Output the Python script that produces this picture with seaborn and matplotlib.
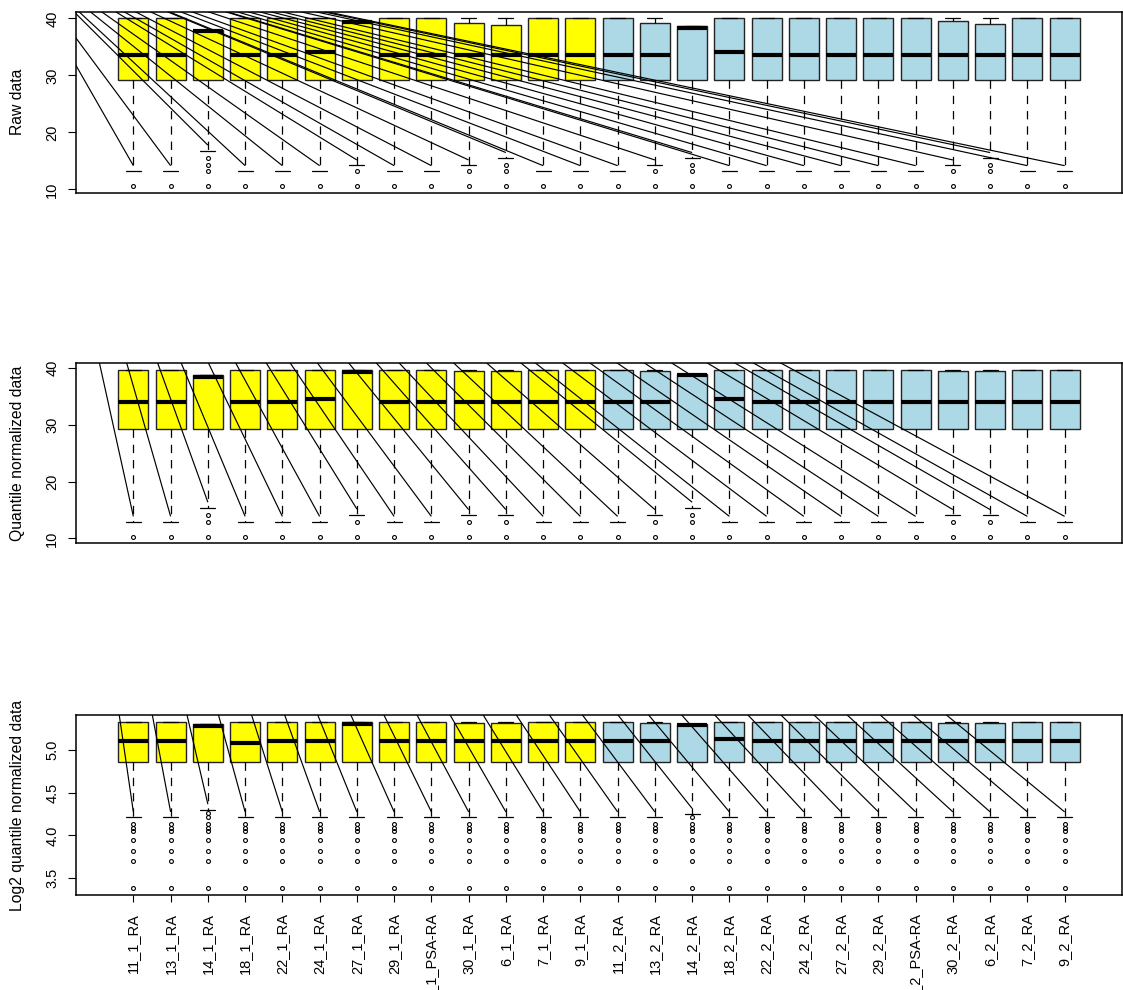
import matplotlib
matplotlib.use("Agg")
import matplotlib.pyplot as plt
import numpy as np
import seaborn as sns

# ---------------------------------------------------------------- samples
samples = [
    "11_1_RA", "13_1_RA", "14_1_RA", "18_1_RA", "22_1_RA", "24_1_RA", "27_1_RA",
    "29_1_RA", "2_1_PSA-RA", "30_1_RA", "6_1_RA", "7_1_RA", "9_1_RA",
    "11_2_RA", "13_2_RA", "14_2_RA", "18_2_RA", "22_2_RA", "24_2_RA", "27_2_RA",
    "29_2_RA", "2_2_PSA-RA", "30_2_RA", "6_2_RA", "7_2_RA", "9_2_RA",
]
timepoint = ["1"] * 13 + ["2"] * 13
timepoint_colors = {"1": "#FFFF00", "2": "#ADD8E6"}

# ---------------------------------------------------------------- raw data
raw_q1 = [29.25, 29.25, 29.25, 29.25, 29.25, 29.25, 29.25, 29.25, 29.25, 29.25, 29.25, 29.25, 29.25,
          29.25, 29.25, 29.25, 29.25, 29.25, 29.25, 29.25, 29.25, 29.25, 29.25, 29.25, 29.25, 29.25]
raw_med = [33.6, 33.6, 37.8, 33.6, 33.6, 34.1, 39.3, 33.6, 33.6, 33.6, 33.6, 33.6, 33.6,
           33.6, 33.6, 38.4, 34.1, 33.6, 33.6, 33.6, 33.6, 33.6, 33.6, 33.6, 33.6, 33.6]
raw_q3 = [40.0, 40.0, 38.0, 40.0, 40.0, 40.0, 39.5, 40.0, 40.0, 39.2, 38.9, 40.0, 40.0,
          40.0, 39.2, 38.6, 40.0, 40.0, 40.0, 40.0, 40.0, 40.0, 39.5, 39.05, 40.0, 40.0]
raw_hi = [40.0, 40.0, 38.0, 40.0, 40.0, 40.0, 39.5, 40.0, 40.0, 40.0, 40.0, 40.0, 40.0,
          40.0, 40.0, 38.6, 40.0, 40.0, 40.0, 40.0, 40.0, 40.0, 40.0, 40.0, 40.0, 40.0]
raw_lo = [13.2, 13.2, 16.8, 13.2, 13.2, 13.2, 14.2, 13.2, 13.2, 14.2, 15.5, 13.2, 13.2,
          13.2, 14.2, 15.5, 13.2, 13.2, 13.2, 13.2, 13.2, 13.2, 14.2, 15.5, 13.2, 13.2]
raw_out = [[10.6], [10.6], [15.5, 14.35, 13.2, 10.6], [10.6], [10.6], [10.6], [13.2, 10.6],
           [10.6], [10.6], [13.2, 10.6], [14.2, 13.2, 10.6], [10.6], [10.6],
           [10.6], [13.2, 10.6], [14.2, 13.2, 10.6], [10.6], [10.6], [10.6], [10.6],
           [10.6], [10.6], [13.2, 10.6], [14.2, 13.2, 10.6], [10.6], [10.6]]

# ---------------------------------------------------------------- quantile normalized
qn_q1 = [29.2, 29.2, 29.2, 29.2, 29.2, 29.2, 29.2, 29.2, 29.2, 29.2, 29.2, 29.2, 29.2,
         29.2, 29.2, 29.2, 29.2, 29.2, 29.2, 29.2, 29.2, 29.2, 29.2, 29.2, 29.2, 29.2]
qn_med = [34.1, 34.1, 38.5, 34.1, 34.1, 34.5, 39.4, 34.1, 34.1, 34.1, 34.1, 34.1, 34.1,
          34.1, 34.1, 38.9, 34.5, 34.1, 34.1, 34.1, 34.1, 34.1, 34.1, 34.1, 34.1, 34.1]
qn_q3 = [39.7, 39.7, 38.8, 39.7, 39.7, 39.7, 39.7, 39.7, 39.7, 39.5, 39.5, 39.7, 39.7,
         39.7, 39.5, 39.0, 39.7, 39.7, 39.7, 39.7, 39.7, 39.7, 39.6, 39.5, 39.7, 39.7]
qn_hi = [39.7, 39.7, 38.8, 39.7, 39.7, 39.7, 39.7, 39.7, 39.7, 39.7, 39.7, 39.7, 39.7,
         39.7, 39.7, 39.0, 39.7, 39.7, 39.7, 39.7, 39.7, 39.7, 39.7, 39.7, 39.7, 39.7]
qn_lo = [12.9, 12.9, 15.4, 12.9, 12.9, 12.9, 14.2, 12.9, 12.9, 14.1, 14.1, 12.9, 12.9,
         12.9, 14.1, 15.4, 12.9, 12.9, 12.9, 12.9, 12.9, 12.9, 14.1, 14.1, 12.9, 12.9]
qn_out = [[10.3], [10.3], [14.2, 12.9, 10.3], [10.3], [10.3], [10.3], [12.9, 10.3],
          [10.3], [10.3], [12.9, 10.3], [12.9, 10.3], [10.3], [10.3],
          [10.3], [12.9, 10.3], [14.1, 12.9, 10.3], [10.3], [10.3], [10.3], [10.3],
          [10.3], [10.3], [12.9, 10.3], [12.9, 10.3], [10.3], [10.3]]

# ---------------------------------------------------------------- log2 quantile normalized
log_q1 = [4.86, 4.86, 4.86, 4.86, 4.86, 4.86, 4.86, 4.86, 4.86, 4.86, 4.86, 4.86, 4.86,
          4.86, 4.86, 4.86, 4.86, 4.86, 4.86, 4.86, 4.86, 4.86, 4.86, 4.86, 4.86, 4.86]
log_med = [5.10, 5.10, 5.28, 5.085, 5.10, 5.10, 5.305, 5.10, 5.10, 5.10, 5.10, 5.10, 5.10,
           5.10, 5.10, 5.29, 5.125, 5.10, 5.10, 5.10, 5.10, 5.10, 5.10, 5.10, 5.10, 5.10]
log_q3 = [5.33, 5.33, 5.30, 5.33, 5.33, 5.33, 5.33, 5.33, 5.33, 5.31, 5.31, 5.33, 5.33,
          5.33, 5.31, 5.30, 5.33, 5.33, 5.33, 5.33, 5.33, 5.33, 5.31, 5.31, 5.33, 5.33]
log_hi = [5.33, 5.33, 5.30, 5.33, 5.33, 5.33, 5.33, 5.33, 5.33, 5.33, 5.33, 5.33, 5.33,
          5.33, 5.33, 5.30, 5.33, 5.33, 5.33, 5.33, 5.33, 5.33, 5.33, 5.33, 5.33, 5.33]
log_lo = [4.21, 4.21, 4.30, 4.21, 4.21, 4.21, 4.21, 4.21, 4.21, 4.21, 4.21, 4.21, 4.21,
          4.21, 4.21, 4.25, 4.21, 4.21, 4.21, 4.21, 4.21, 4.21, 4.21, 4.21, 4.21, 4.21]
log_tail = [4.13, 4.09, 4.05, 3.95, 3.82, 3.70, 3.38]
log_out = [list(log_tail) for _ in samples]
log_out[2] = [4.26, 4.22] + log_tail
log_out[15] = [4.21] + log_tail

# ---------------------------------------------------------------- style
sns.set_style("ticks")
plt.rcParams["font.family"] = ["Liberation Sans", "DejaVu Sans"]
plt.rcParams["lines.scale_dashes"] = False

W, H = 1123, 990
DPI = 100
fig = plt.figure(figsize=(W / DPI, H / DPI), dpi=DPI)
fig.patch.set_facecolor("white")

# common origin of the guide strokes (figure pixels, measured from bottom-left)
GUIDE_ORIGIN = (7.0, H + 55.0)
GUIDE_LIFT = 5.5  # px above the lower whisker cap

positions = np.arange(1, len(samples) + 1)


def add_axes_px(left, top, right, bottom):
    return fig.add_axes([left / W, 1 - bottom / H, (right - left) / W, (bottom - top) / H])


def draw_panel(ax, q1, med, q3, lo, hi, fliers, ylabel, yticks, ytick_fmt):
    stats = [
        dict(med=m, q1=a, q3=b, whislo=l, whishi=h, fliers=f)
        for a, m, b, l, h, f in zip(q1, med, q3, lo, hi, fliers)
    ]
    art = ax.bxp(
        stats, positions=positions, widths=0.8, capwidths=0.4, patch_artist=True,
        showfliers=True, manage_ticks=False,
        boxprops=dict(edgecolor="#222222", linewidth=1.0),
        medianprops=dict(color="black", linewidth=3.0, solid_capstyle="butt"),
        whiskerprops=dict(color="black", linewidth=0.9, linestyle=(0, (6, 5))),
        capprops=dict(color="black", linewidth=0.9),
        flierprops=dict(marker="o", markersize=2.8, markerfacecolor="none",
                        markeredgecolor="black", markeredgewidth=0.8, linestyle="none"),
    )
    for patch, tp in zip(art["boxes"], timepoint):
        patch.set_facecolor(timepoint_colors[tp])

    n = len(samples)
    ax.set_xlim(0.5 - 0.04 * n, n + 0.5 + 0.04 * n)
    vmin = min(min(lo), min(min(f) for f in fliers))
    vmax = max(hi)
    pad = 0.04 * (vmax - vmin)
    ax.set_ylim(vmin - pad, vmax + pad)

    ax.set_yticks(yticks)
    ax.set_yticklabels([ytick_fmt.format(t) for t in yticks])
    ax.tick_params(axis="y", labelrotation=90, length=5.5, width=0.8, pad=6.5,
                   labelsize=10.5, color="black", labelcolor="black")
    for lab in ax.get_yticklabels():
        lab.set_va("center")
    ax.set_ylabel(ylabel, fontsize=11.3, color="black")
    ax.yaxis.set_label_coords((25 - 76) / 1046, 0.5)

    for sp in ax.spines.values():
        sp.set_visible(True)
        sp.set_linewidth(1.1)
        sp.set_color("black")

    # guide strokes from a common point to each lower whisker
    inv = ax.transData.inverted()
    p0 = inv.transform(GUIDE_ORIGIN)
    for x, l in zip(positions, lo):
        ex, ey = ax.transData.transform((x, l))
        p1 = inv.transform((ex, ey + GUIDE_LIFT))
        ax.plot([p0[0], p1[0]], [p0[1], p1[1]], color="black", lw=0.85,
                solid_capstyle="butt", zorder=6, clip_on=True)


ax1 = add_axes_px(76, 11.7, 1122, 192.7)
ax2 = add_axes_px(76, 363.3, 1122, 543.3)
ax3 = add_axes_px(76, 715, 1122, 895)

draw_panel(ax1, raw_q1, raw_med, raw_q3, raw_lo, raw_hi, raw_out,
           "Raw data", [10, 20, 30, 40], "{:g}")
draw_panel(ax2, qn_q1, qn_med, qn_q3, qn_lo, qn_hi, qn_out,
           "Quantile normalized data", [10, 20, 30, 40], "{:g}")
draw_panel(ax3, log_q1, log_med, log_q3, log_lo, log_hi, log_out,
           "Log2 quantile normalized data", [3.5, 4.0, 4.5, 5.0], "{:.1f}")

for ax in (ax1, ax2):
    ax.set_xticks([])

ax3.set_xticks(positions)
ax3.set_xticklabels(samples, rotation=90)
ax3.tick_params(axis="x", length=5.0, width=0.8, pad=8, labelsize=10.5,
                color="black", labelcolor="black")

fig.savefig("out.png", dpi=DPI, facecolor="white")
